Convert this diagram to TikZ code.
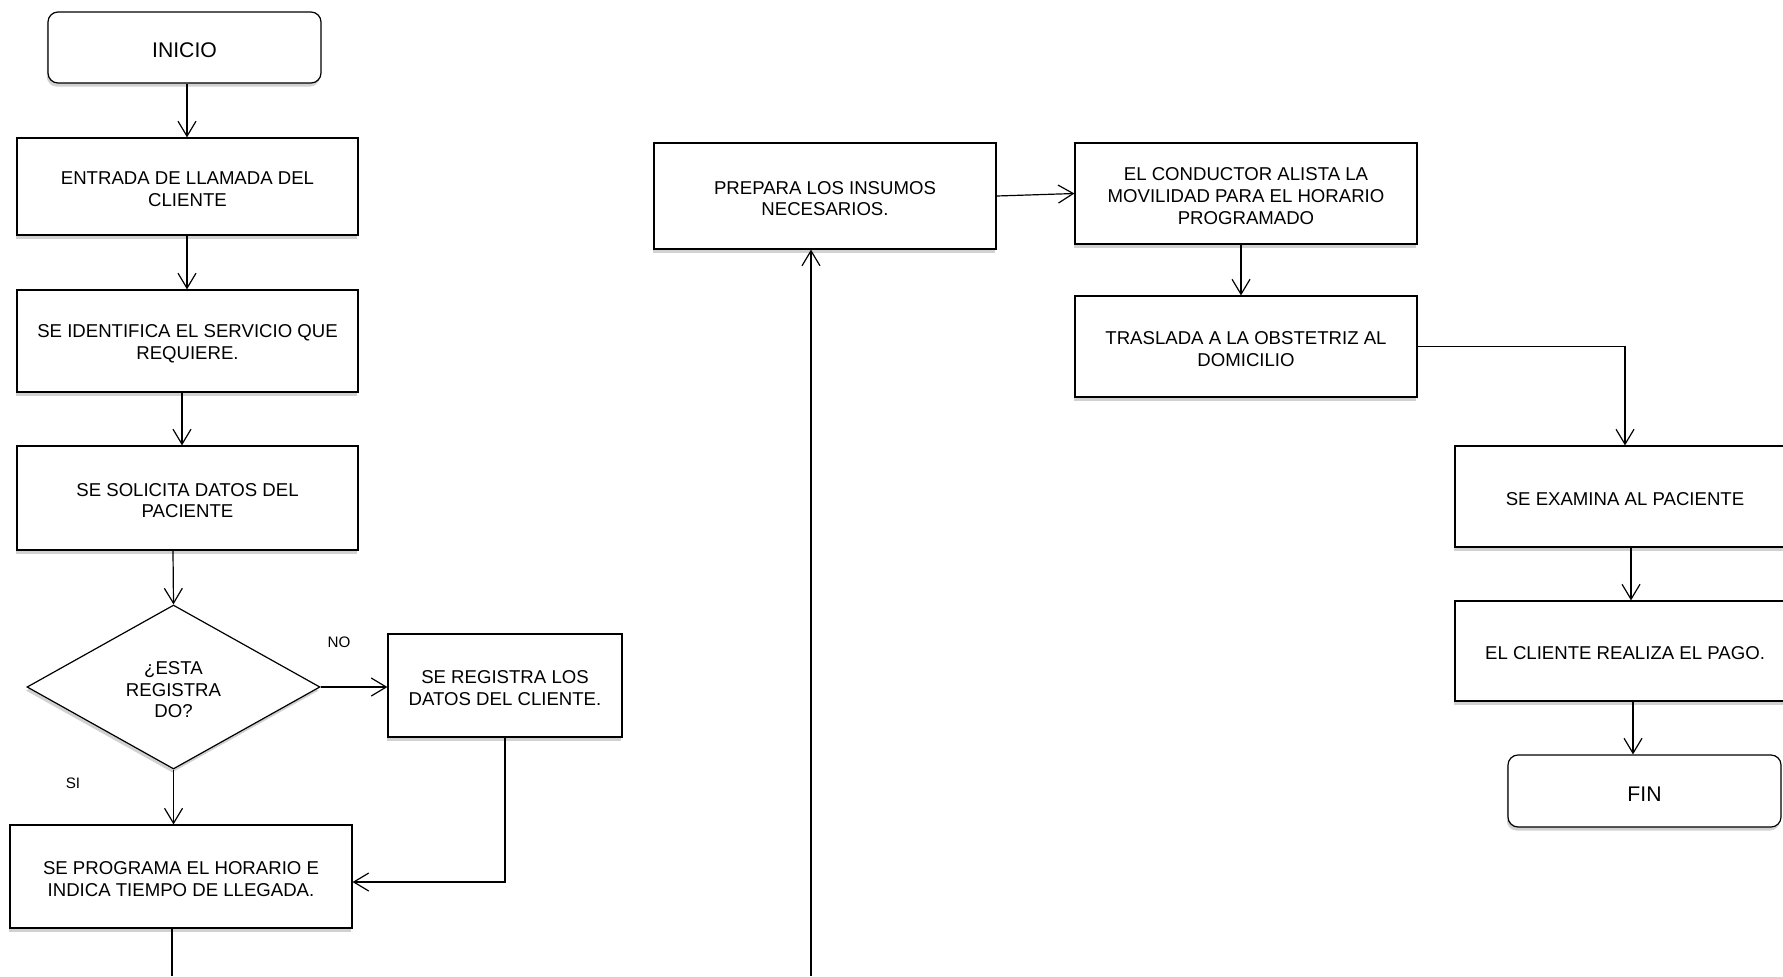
\documentclass[tikz,border=0pt]{standalone}
\usepackage{fontspec}
\setmainfont{Liberation Sans}
\usetikzlibrary{arrows.meta,shapes.geometric,shadows,calc}
\newcommand{\padtop}{\rule{0pt}{9pt}}
\begin{document}
\begin{tikzpicture}[x=0.5pt,y=-0.5pt,
  every node/.style={font=\fontsize{9.3}{10.8}\selectfont, align=center, inner sep=0pt},
  shade/.style={drop shadow={shadow xshift=-0.6pt, shadow yshift=-1.8pt, opacity=0.18, fill=black}},
  procbox/.style 2 args={draw, line width=0.6pt, fill=white, shade, minimum width=#1*0.5pt, minimum height=#2*0.5pt},
  termbox/.style 2 args={draw, line width=0.6pt, fill=white, shade, minimum width=#1*0.5pt, minimum height=#2*0.5pt, rounded corners=5pt, font=\fontsize{10.6}{12}\selectfont, execute at begin node={\rule{0pt}{10pt}}},
  decbox/.style={draw, line width=0.6pt, fill=white, shade, diamond, aspect=1.79, minimum width=146.5pt, minimum height=82pt},
  lbl/.style={font=\fontsize{7.6}{9}\selectfont},
  arr/.style={draw, line width=0.6pt, -{Straight Barb[length=7.5pt,width=9pt,line width=0.6pt]}},
  ln/.style={draw, line width=0.6pt}
]
\useasboundingbox (0,0) rectangle (1783,976);

% left column
\node[termbox={273}{71}] (inicio) at (184.5,47.5) {INICIO};
\node[procbox={341}{97}] (entrada) at (187.5,186.5) {\padtop ENTRADA DE LLAMADA DEL\\CLIENTE};
\node[procbox={341}{102}] (identifica) at (187.5,341) {\padtop SE IDENTIFICA EL SERVICIO QUE\\REQUIERE.};
\node[procbox={341}{104}] (solicita) at (187.5,498) {\padtop SE SOLICITA DATOS DEL\\PACIENTE};
\node[decbox] (dec) at (173.5,687) {\rule{0pt}{9.4pt}¿ESTA\\REGISTRA\\DO?};
\node[procbox={234}{103}] (registra) at (505,685.5) {\padtop SE REGISTRA LOS\\DATOS DEL CLIENTE.};
\node[procbox={342}{103}] (programa) at (181,876.5) {\padtop SE PROGRAMA EL HORARIO E\\INDICA TIEMPO DE LLEGADA.};
\node[lbl] (no) at (339,642) {NO};
\node[lbl] (si) at (73,783) {SI};

% middle / right
\node[procbox={342}{106}] (prepara) at (825,196) {\padtop PREPARA LOS INSUMOS\\NECESARIOS.};
\node[procbox={342}{101}] (conductor) at (1246,193.5) {\padtop EL CONDUCTOR ALISTA LA\\MOVILIDAD PARA EL HORARIO\\PROGRAMADO};
\node[procbox={342}{101}] (traslada) at (1246,346.5) {\padtop TRASLADA A LA OBSTETRIZ AL\\DOMICILIO};
\node[procbox={340}{101}] (examina) at (1625,496.5) {\padtop SE EXAMINA AL PACIENTE};
\node[procbox={340}{100}] (cliente) at (1625,651) {\padtop EL CLIENTE REALIZA EL PAGO.};
\node[termbox={273}{72}] (fin) at (1644.5,791) {FIN};

\coordinate (endL) at (172,976);
\coordinate (startM) at (811,976);

% connectors
\draw[arr] (inicio.south -| 187,0) -- (entrada.north -| 187,0);
\draw[arr] (entrada.south -| 187,0) -- (identifica.north -| 187,0);
\draw[arr] (identifica.south -| 182,0) -- (solicita.north -| 182,0);
\draw[arr] (solicita.south -| 173,0) -- (dec.north);
\draw[arr] (dec.east) -- (registra.west |- dec.east);
\draw[arr] (dec.south) -- (programa.north -| dec.south);
\draw[arr] (registra.south) -- (registra.south |- 0,882) -- (programa.east |- 0,882);
\draw[ln] (programa.south -| endL) -- (endL);
\draw[arr] (startM) -- (prepara.south -| startM);
\draw[arr] (prepara.east) -- (conductor.west);
\draw[arr] (conductor.south -| 1241,0) -- (traslada.north -| 1241,0);
\draw[arr] (traslada.east) -| (examina.north);
\draw[arr] (examina.south -| 1631,0) -- (cliente.north -| 1631,0);
\draw[arr] (cliente.south -| 1633,0) -- (fin.north -| 1633,0);
\end{tikzpicture}
\end{document}
